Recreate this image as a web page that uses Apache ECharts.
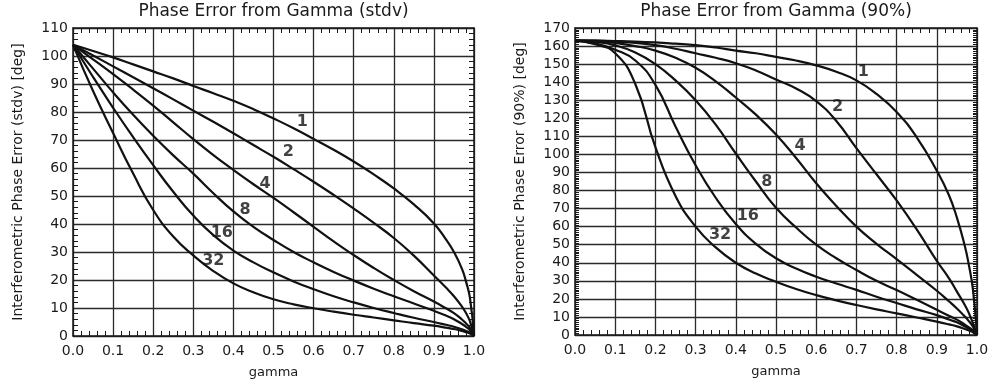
<!DOCTYPE html>
<html>
<head>
<meta charset="utf-8">
<script src="https://cdn.jsdelivr.net/npm/echarts@6/dist/echarts.min.js"></script>
<style>
html,body{margin:0;padding:0;background:#fff;}
#chart{width:992px;height:385px;}
</style>
</head>
<body>
<div id="chart"></div>
<script>
// ---- data ----
const gamma = [0, 0.05, 0.1, 0.15, 0.2, 0.25, 0.3, 0.35, 0.4, 0.45, 0.5, 0.55, 0.6, 0.65, 0.7, 0.75, 0.8, 0.85, 0.9, 0.93, 0.95, 0.97, 0.98, 0.99, 1.0];
const looks = ['1', '2', '4', '8', '16', '32'];

// left panel: standard deviation [deg]
const stdv1  = [104, 101.8, 99.5, 97, 94.5, 92, 89.3, 86.7, 84, 81, 77.7, 74.2, 70.4, 66.5, 62.3, 57.7, 52.7, 47, 40.2, 34.5, 30, 24, 19.5, 13.5, 0];
const stdv2  = [104, 100.2, 96.3, 92.4, 88.5, 84.5, 80.5, 76.5, 72.4, 68.2, 64, 59.6, 55.1, 50.4, 45.5, 40.4, 35, 28.7, 21.6, 17.3, 14.2, 10.5, 8.2, 5.2, 0];
const stdv4  = [104, 98.8, 93.5, 88, 82.3, 76.3, 70.3, 64.6, 59.3, 54.2, 49.3, 44.2, 39, 33.8, 28.9, 24.3, 20, 16, 12.3, 9.9, 8.2, 5.9, 4.5, 2.9, 0];
const stdv8  = [104, 95.5, 87, 79, 71.5, 64.5, 58, 51, 44.5, 39, 34.3, 30, 26.3, 22.9, 19.8, 16.9, 14.2, 11.6, 9, 7.3, 6, 4.3, 3.3, 2.1, 0];
const stdv16 = [104, 92.5, 81.5, 71, 61, 51.5, 43, 36, 30.5, 26.3, 22.7, 19.5, 16.7, 14.2, 12, 10, 8.2, 6.5, 5, 4, 3.3, 2.4, 1.8, 1.2, 0];
const stdv32 = [104, 87.5, 72.5, 58, 45, 35.5, 28.8, 23.2, 18.8, 15.6, 13.1, 11.3, 9.9, 8.7, 7.6, 6.6, 5.6, 4.6, 3.7, 3, 2.5, 1.8, 1.4, 0.9, 0];

// right panel: 90% confidence [deg]
const p90_1  = [163, 163, 162.8, 162.5, 162, 161.3, 160.5, 159.2, 157.5, 156, 154, 152, 149.3, 145.8, 141, 133.5, 123.5, 109.5, 91, 77.5, 65, 49, 38.5, 25, 0];
const p90_2  = [163, 163, 162.4, 161.8, 160.5, 158.5, 156, 153.5, 150.5, 146.5, 141.5, 136.5, 129.5, 118.5, 103.5, 89, 74.5, 58.5, 41, 31.5, 24, 16.5, 12, 6.5, 0];
const p90_4  = [163, 162.8, 161.7, 160, 157.5, 153.5, 148, 140.5, 131.5, 122, 111, 98, 84, 71.5, 60, 50.5, 42, 33.3, 24.5, 18.7, 14.7, 10.2, 7.6, 4.6, 0];
const p90_8  = [163, 162.3, 160.4, 156.5, 150, 141, 130, 116.5, 100.5, 85, 70.5, 59.5, 50, 42.5, 36, 30, 24.9, 19.5, 14, 10.6, 8.5, 5.7, 4.2, 2.6, 0];
const p90_16 = [163, 161.5, 158, 152, 138.5, 115.5, 94, 76, 61.5, 50.5, 42.5, 36.8, 32.3, 28.5, 25, 21.2, 17.7, 14.2, 11, 8.6, 7, 4.7, 3.5, 2.1, 0];
const p90_32 = [163, 161, 156, 139, 104, 77, 60, 48.5, 40, 34, 29.5, 25.5, 22.1, 19.2, 16.6, 14.2, 12, 9.7, 7.4, 5.9, 4.8, 3.3, 2.5, 1.5, 0];

// curve label anchor points [gamma, deg]
const stdvLabelX = [0.572, 0.537, 0.479, 0.429, 0.371, 0.35];
const stdvLabelY = [76.5, 65.8, 54.5, 45, 36.7, 26.9];
const p90LabelX  = [0.717, 0.653, 0.56, 0.477, 0.43, 0.361];
const p90LabelY  = [145.8, 126.1, 105, 84.9, 65.9, 55.4];

const xTicks = ['0.0','0.1','0.2','0.3','0.4','0.5','0.6','0.7','0.8','0.9','1.0'];

const titles = ['Phase Error from Gamma (stdv)', 'Phase Error from Gamma (90%)'];
const yNames = ['Interferometric Phase Error (stdv) [deg]', 'Interferometric Phase Error (90%) [deg]'];
const xName = 'gamma';

// ---- chart ----
const FONT = 'DejaVu Sans';
const INK = '#1a1a1a';
const chart = echarts.init(document.getElementById('chart'), null, {renderer: 'canvas'});

function xAxes(gridIndex) {
  const base = {
    type: 'value', gridIndex, min: 0, max: 1, interval: 0.1,
    axisLine: {show: true, onZero: false, lineStyle: {color: INK, width: 1.5}},
    axisTick: {show: false, inside: true},
    minorTick: {show: true, splitNumber: 5, length: 5, lineStyle: {color: INK, width: 1}},
  };
  return [
    Object.assign({}, base, {
      position: 'bottom',
      axisLabel: {show: true, margin: 8, color: INK, fontFamily: FONT, fontSize: 14,
        formatter: (v) => xTicks[Math.round(v * 10)]},
      splitLine: {show: true, lineStyle: {color: '#2a2a2a', width: 1.3}},
      name: xName, nameLocation: 'middle', nameGap: 30,
      nameTextStyle: {color: INK, fontFamily: FONT, fontSize: 13}
    }),
    Object.assign({}, base, {
      position: 'top', axisLabel: {show: false}, splitLine: {show: false}
    })
  ];
}
function yAxes(gridIndex, max, minorSplit, minorLen, name, gap) {
  const base = {
    type: 'value', gridIndex, min: 0, max: max, interval: 10,
    axisLine: {show: true, onZero: false, lineStyle: {color: INK, width: 1.5}},
    axisTick: {show: false, inside: true},
    minorTick: {show: true, splitNumber: minorSplit, length: minorLen, lineStyle: {color: INK, width: 1}},
  };
  return [
    Object.assign({}, base, {
      position: 'left',
      axisLabel: {show: true, margin: 5, color: INK, fontFamily: FONT, fontSize: 14},
      splitLine: {show: true, lineStyle: {color: '#2a2a2a', width: 1.3}},
      name: name, nameLocation: 'middle', nameGap: gap, nameRotate: 90,
      nameTextStyle: {color: INK, fontFamily: FONT, fontSize: 14}
    }),
    Object.assign({}, base, {
      position: 'right', axisLabel: {show: false}, splitLine: {show: false}
    })
  ];
}

function curve(vals, xAxisIndex, yAxisIndex) {
  return {
    type: 'line', xAxisIndex, yAxisIndex,
    data: gamma.map((g, i) => [g, vals[i]]),
    showSymbol: false, smooth: 0.5, clip: true, silent: true,
    lineStyle: {color: '#111', width: 2.2}
  };
}
function labels(xs, ys, xAxisIndex, yAxisIndex) {
  return {
    type: 'scatter', xAxisIndex, yAxisIndex, silent: true,
    symbol: 'circle', symbolSize: 1,
    itemStyle: {color: 'rgba(0,0,0,0)'},
    data: xs.map((x, i) => [x, ys[i], looks[i]]),
    label: {show: true, position: 'inside', formatter: (p) => p.data[2],
      color: '#111', fontFamily: FONT, fontSize: 16, fontWeight: 'bold'}
  };
}

const stdvSeries = [stdv1, stdv2, stdv4, stdv8, stdv16, stdv32];
const p90Series = [p90_1, p90_2, p90_4, p90_8, p90_16, p90_32];

const option = {
  backgroundColor: '#fff',
  animation: false,
  grid: [
    {left: 73, top: 28, width: 401, height: 308},
    {left: 575, top: 28, width: 402, height: 307}
  ],
  xAxis: [...xAxes(0), ...xAxes(1)],
  yAxis: [...yAxes(0, 110, 5, 5, yNames[0], 48), ...yAxes(1, 170, 10, 4, yNames[1], 48)],
  series: [
    ...stdvSeries.map(v => curve(v, 0, 0)),
    ...p90Series.map(v => curve(v, 2, 2)),
    labels(stdvLabelX, stdvLabelY, 0, 0),
    labels(p90LabelX, p90LabelY, 2, 2)
  ],
  graphic: [
    {type: 'text', x: 273.5, y: 12, style: {text: titles[0], align: 'center', verticalAlign: 'middle',
      fill: INK, font: '17px "DejaVu Sans"'}},
    {type: 'text', x: 776, y: 12, style: {text: titles[1], align: 'center', verticalAlign: 'middle',
      fill: INK, font: '17px "DejaVu Sans"'}}
  ]
};
chart.setOption(option);
</script>
</body>
</html>
